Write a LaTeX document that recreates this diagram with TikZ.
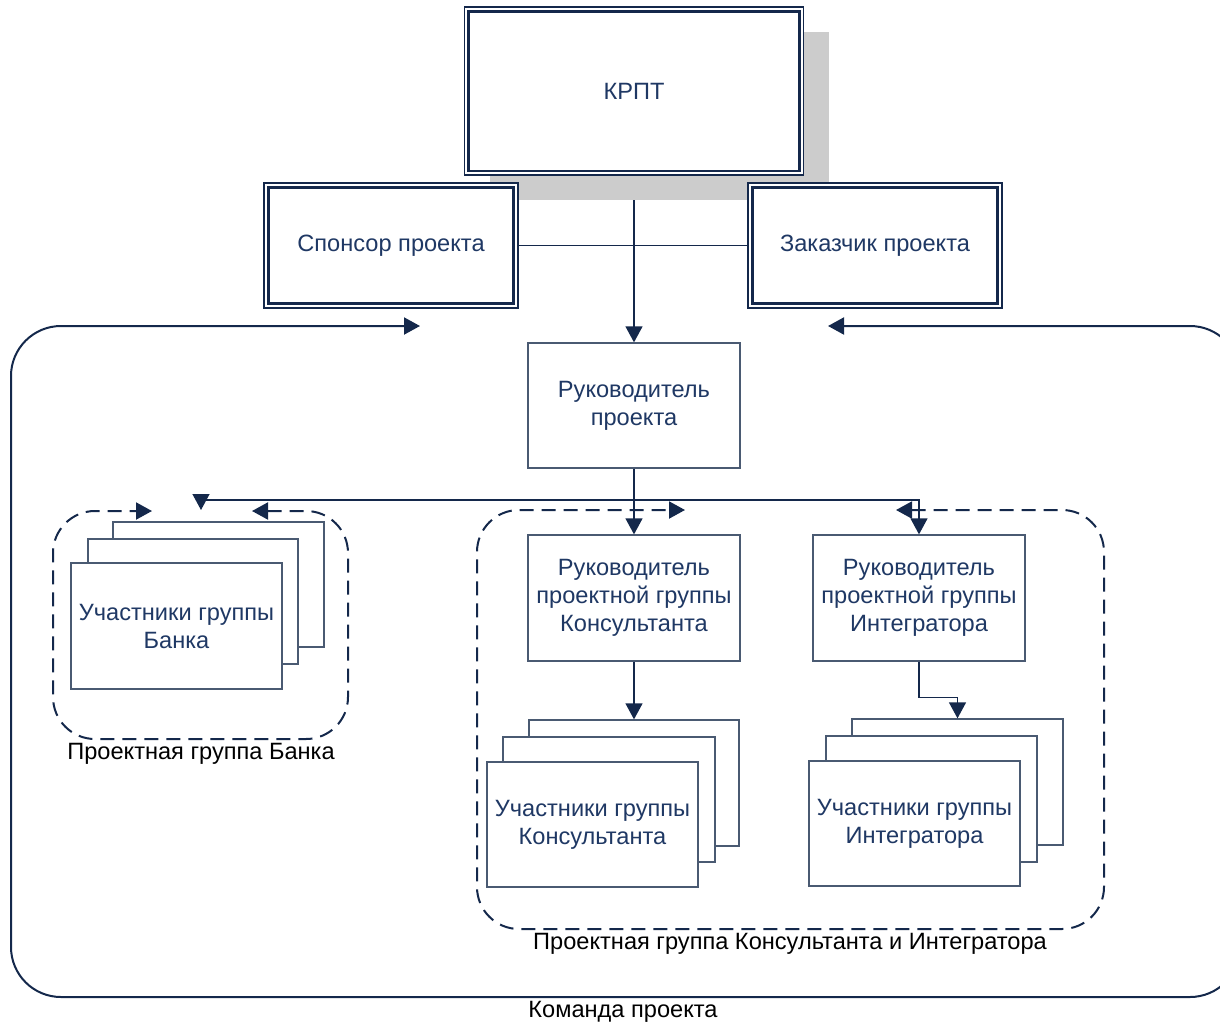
\documentclass[tikz,border=0pt]{standalone}
\usepackage{fontspec}
\setmainfont{Liberation Sans}
\usetikzlibrary{arrows.meta,shadows,backgrounds}
\definecolor{navy}{HTML}{14284B}
\definecolor{txt}{HTML}{1F3864}
\definecolor{boxline}{HTML}{4A5A72}
\definecolor{shadowgray}{HTML}{CCCCCC}
\begin{document}
\begin{tikzpicture}[x=1pt,y=-1pt,
  every node/.style={font=\fontsize{23.6}{28}\selectfont, align=center, inner sep=0pt},
  dblout/.style={draw=navy, line width=1.6pt, fill=white, text=txt},
  dblin/.style={draw=navy, line width=2.6pt},
  plainbox/.style={draw=boxline, line width=1.3pt, fill=white, text=txt},
  card/.style={draw=boxline, line width=1.3pt, fill=white, text=txt, minimum width=211pt, minimum height=125pt},
  conn/.style={draw=navy, line width=1.3pt},
  tip/.style={conn, -{Triangle[length=16pt,width=17pt]}},
  tips/.style={{Triangle[length=16pt,width=17pt]}-{Triangle[length=16pt,width=17pt]}},
  frame/.style={draw=navy, line width=2pt, rounded corners=50pt, tips},
  grp/.style={draw=navy, line width=2pt, rounded corners=42pt, dash pattern=on 14pt off 8pt, tips},
  glabel/.style={text=black}
]
\useasboundingbox (0,0) rectangle (1220,1023);
\clip (0,0) rectangle (1220,1023);

% outer frame (Команда проекта)
\coordinate (fs) at (828,326);
\coordinate (fe) at (420,326);
\draw[frame] (fs) -- (1240,326) -- (1240,997) -- (11,997) -- (11,326) -- (fe);
\node[glabel] (lteam) at (623,1012) {Команда проекта};

% top boxes
\node[dblout, minimum width=339pt, minimum height=168pt,
      drop shadow={shadow xshift=25pt, shadow yshift=-25pt, fill=shadowgray, opacity=1}]
      (krpt) at (634,91) {КРПТ};
\draw[dblin] ([shift={(5pt,-5pt)}]krpt.north west) rectangle ([shift={(-5pt,5pt)}]krpt.south east);

\node[dblout, minimum width=254pt, minimum height=125pt] (sp) at (391,245.5) {Спонсор проекта};
\draw[dblin] ([shift={(5.5pt,-5.5pt)}]sp.north west) rectangle ([shift={(-5.5pt,5.5pt)}]sp.south east);
\node[dblout, minimum width=254pt, minimum height=125pt] (cu) at (875,245.5) {Заказчик проекта};
\draw[dblin] ([shift={(5.5pt,-5.5pt)}]cu.north west) rectangle ([shift={(-5.5pt,5.5pt)}]cu.south east);

% project manager
\node[plainbox, minimum width=212pt, minimum height=125pt] (pm) at (634,405.5) {Руководитель\\проекта};

\begin{scope}[on background layer]
\draw[tip] (krpt.south) -- (pm.north);
\end{scope}
\draw[conn] (sp.east) -- (cu.west);

% leaders
\node[plainbox, minimum width=212pt, minimum height=126pt] (cl) at (634,598) {Руководитель\\проектной группы\\Консультанта};
\node[plainbox, minimum width=212pt, minimum height=126pt] (il) at (919,598) {Руководитель\\проектной группы\\Интегратора};

% group frames
\coordinate (bgs) at (252,511);
\coordinate (bge) at (152,511);
\draw[grp] (bgs) -- (348,511) -- (348,739) -- (53,739) -- (53,511) -- (bge);
\node[glabel] (lbank) at (201,754) {Проектная группа Банка};

\coordinate (cgs) at (896,510);
\coordinate (cge) at (685,510);
\draw[grp] (cgs) -- (1104,510) -- (1104,929) -- (477,929) -- (477,510) -- (cge);
\node[glabel] (lci) at (790,944) {Проектная группа Консультанта и Интегратора};

% stacks: bank
\node[card] (bb) at (218.5,584.5) {};
\node[card, minimum width=210pt] (bm) at (193,601.5) {};
\node[card, minimum height=126pt] (bf) at (176.5,626) {Участники группы\\Банка};
% stacks: consultant
\node[card, minimum width=210pt, minimum height=126pt] (cb) at (634,783) {};
\node[card, minimum width=212pt] (cm) at (609,799.5) {};
\node[card] (cf) at (592.5,824.5) {Участники группы\\Консультанта};
% stacks: integrator
\node[card, minimum height=126pt] (ib) at (957.5,782) {};
\node[card, minimum height=126pt] (im) at (931.5,799) {};
\node[card] (ifr) at (914.5,823.5) {Участники группы\\Интегратора};

% connectors from project manager
\coordinate (bus) at (634,500);
\coordinate (bankin) at (201,510);
\draw[tip] (pm.south) -- (cl.north);
\draw[tip] (bus) -| (bankin);
\draw[tip] (bus) -| (il.north);
\draw[tip] (cl.south) -- (cb.north);
\draw[tip] (il.south) -- ++(0,36) -| (ib.north);
\end{tikzpicture}
\end{document}
